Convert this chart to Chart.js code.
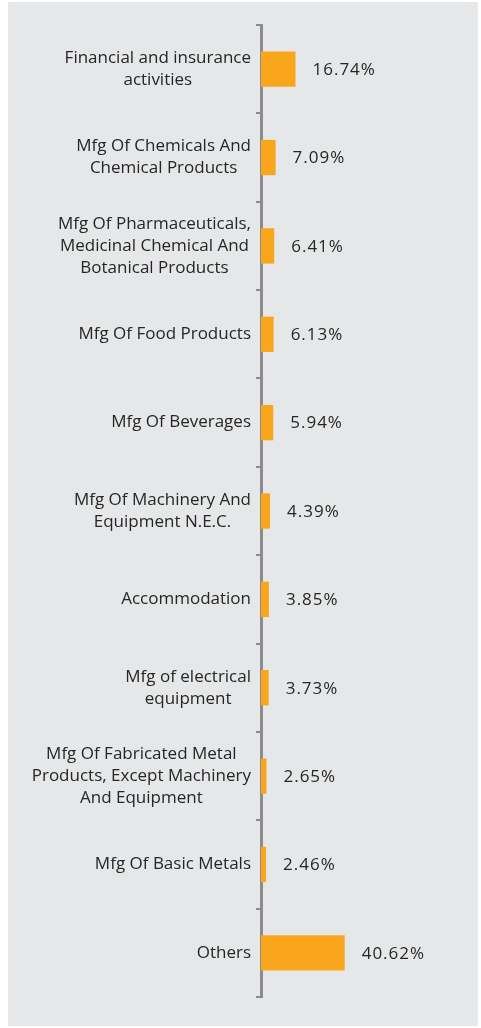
<!DOCTYPE html>
<html>
<head>
<meta charset="utf-8">
<script src="https://cdn.jsdelivr.net/npm/chart.js@4"></script>
<style>
  html, body { margin: 0; padding: 0; background: #ffffff; }
  #wrap { position: absolute; left: 8px; top: 2px; width: 470px; height: 1024px; background: #e6e7e8; }
</style>
</head>
<body>
<div id="wrap"><canvas id="sectorChart" width="470" height="1024"></canvas></div>
<script>
// sectors, top to bottom
const sectors = [
    ["Financial and insurance", "activities"],
    ["Mfg Of Chemicals And", "Chemical Products"],
    ["Mfg Of Pharmaceuticals,", "Medicinal Chemical And", "Botanical Products"],
    ["Mfg Of Food Products"],
    ["Mfg Of Beverages"],
    ["Mfg Of Machinery And", "Equipment N.E.C."],
    ["Accommodation"],
    ["Mfg of electrical", "equipment"],
    ["Mfg Of Fabricated Metal", "Products, Except Machinery", "And Equipment"],
    ["Mfg Of Basic Metals"],
    ["Others"]
];
const shares = [16.74, 7.09, 6.41, 6.13, 5.94, 4.39, 3.85, 3.73, 2.65, 2.46, 40.62];
const shareLabels = ["16.74%", "7.09%", "6.41%", "6.13%", "5.94%", "4.39%", "3.85%", "3.73%", "2.65%", "2.46%", "40.62%"];

const textFont = '17px "Open Sans"';
const textColor = '#262626';

// draws sector names (right aligned block, centered lines) and the % values
const labelPlugin = {
    id: 'labelPlugin',
    afterDatasetsDraw(chart) {
        const ctx = chart.ctx;
        const yScale = chart.scales.y;
        const meta = chart.getDatasetMeta(0);
        ctx.save();
        ctx.font = textFont;
        ctx.fillStyle = textColor;
        ctx.textBaseline = 'middle';
        const lineH = 22;
        const rightEdge = chart.chartArea.left - 10;
        sectors.forEach((lines, i) => {
            const yc = yScale.getPixelForValue(i);
            ctx.letterSpacing = '0px';
            let maxW = 0;
            lines.forEach(l => { maxW = Math.max(maxW, ctx.measureText(l).width); });
            const cx = rightEdge - maxW / 2;
            ctx.textAlign = 'center';
            lines.forEach((l, k) => {
                const y = yc + (k - (lines.length - 1) / 2) * lineH;
                ctx.fillText(l, cx, y);
            });
            // value next to the bar, a bit spaced out like the original
            const bar = meta.data[i];
            ctx.letterSpacing = '1px';
            ctx.textAlign = 'left';
            ctx.fillText(shareLabels[i], bar.x + 17, yc + 1);
        });
        ctx.restore();
    }
};

const ctx = document.getElementById('sectorChart').getContext('2d');
const sectorChart = new Chart(ctx, {
    type: 'bar',
    data: {
        labels: sectors,
        datasets: [{
            data: shares,
            backgroundColor: '#f9a61d',
            borderWidth: 0,
            barPercentage: 0.4,
            categoryPercentage: 1
        }]
    },
    options: {
        indexAxis: 'y',
        responsive: false,
        animation: false,
        layout: { padding: { left: 248, right: 11, top: 23, bottom: 29 } },
        plugins: {
            legend: { display: false },
            tooltip: { enabled: false }
        },
        scales: {
            x: { display: false, min: 0, max: 100 },
            y: {
                ticks: { display: false },
                grid: {
                    offset: true,
                    drawOnChartArea: false,
                    drawTicks: true,
                    tickLength: 5,
                    color: '#8c8c8c',
                    lineWidth: 2
                },
                border: { display: true, color: '#8c8c8c', width: 3 }
            }
        }
    },
    plugins: [labelPlugin]
});
</script>
</body>
</html>
